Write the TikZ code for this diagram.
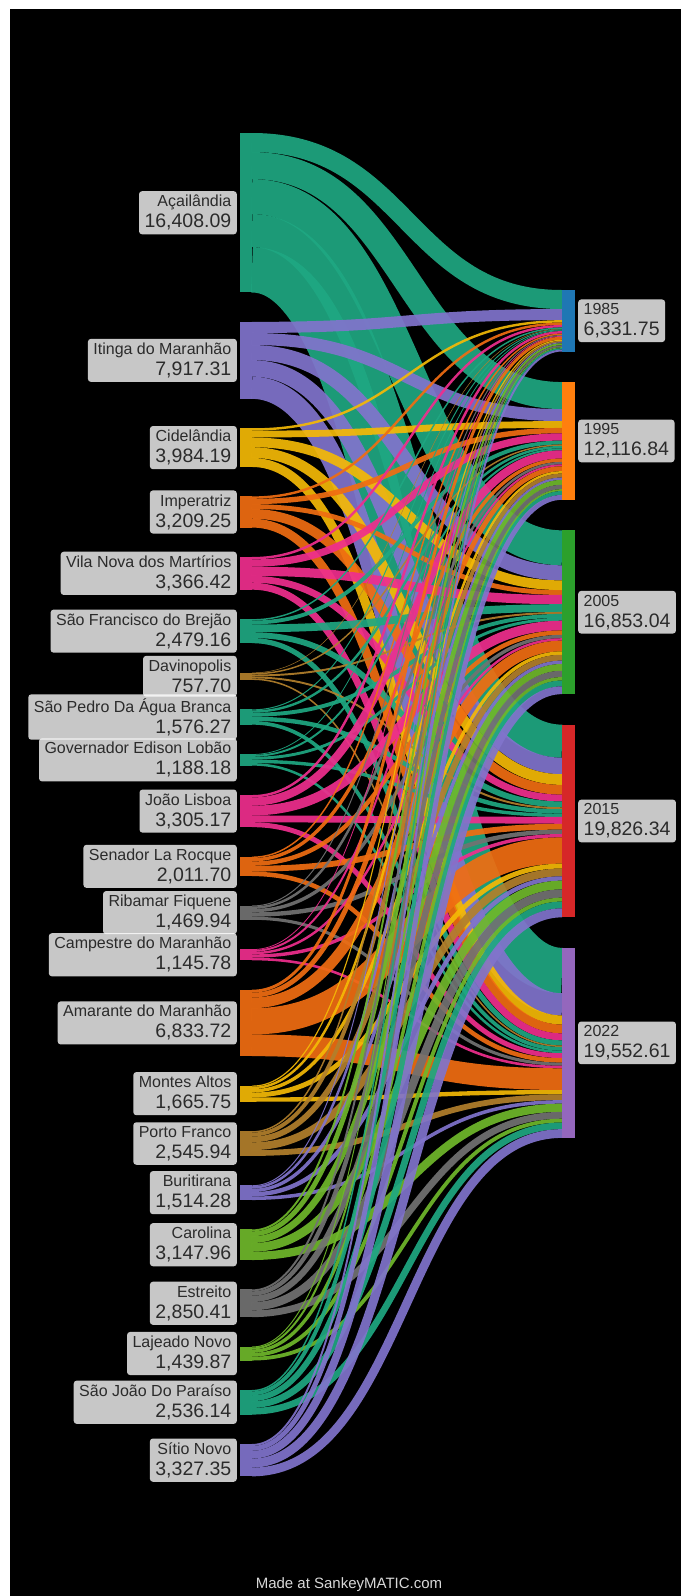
\documentclass[tikz,border=0pt]{standalone}
\usepackage{fontspec}
\setmainfont{Liberation Sans}
\definecolor{cteal}{HTML}{1FA882}
\definecolor{cpurp}{HTML}{8174CC}
\definecolor{cgold}{HTML}{F4B906}
\definecolor{corng}{HTML}{F06D12}
\definecolor{cpink}{HTML}{EF2E8E}
\definecolor{cgrn}{HTML}{6FB82B}
\definecolor{cbrwn}{HTML}{B2802C}
\definecolor{cgray}{HTML}{727272}
\definecolor{yA}{HTML}{1F77B4}
\definecolor{yB}{HTML}{FF7F0E}
\definecolor{yC}{HTML}{2CA02C}
\definecolor{yD}{HTML}{D62728}
\definecolor{yE}{HTML}{9467BD}
\definecolor{lbltext}{HTML}{2B2B2B}
\definecolor{foottext}{HTML}{D8D8D8}

\newcommand\skflow[4]{%
  \pgfmathsetmacro\fw{#1*\sc}%
  \edef\curT{\csname tg#2\endcsname}%
  \edef\curC{\csname cu#2\endcsname}%
  \pgfmathsetmacro\ys{\so+\fw/2}%
  \pgfmathsetmacro\yt{\curT+\curC*\sc+\fw/2}%
  \coordinate (fs#4) at (252,\ys);
  \coordinate (ft#4) at (562,\yt);
  \draw[flow,#3,line width=\fw pt] (fs#4) .. controls +(155,0) and +(-155,0) .. (ft#4);
  \pgfmathsetmacro\tmpc{\curC+#1}%
  \expandafter\xdef\csname cu#2\endcsname{\tmpc}%
  \pgfmathsetmacro\so{\so+\fw}%
}

\begin{document}
\begin{tikzpicture}[x=1pt,y=-1pt,
  lbl/.style={fill=white, fill opacity=0.78, text opacity=1, text=lbltext,
    rounded corners=3pt, inner xsep=5.5pt, inner ysep=4pt,
    font=\fontsize{19.5}{21}\selectfont},
  lleft/.style={lbl, anchor=east, align=right},
  lright/.style={lbl, anchor=west, align=left},
  flow/.style={draw opacity=0.92, line cap=butt},
  bar/.style={rectangle, inner sep=0pt, outer sep=0pt, minimum width=12pt, anchor=north west},
]
\useasboundingbox (0,0) rectangle (681,1596);
\fill[black] (10,9) rectangle (681,1596);

\pgfmathsetmacro\sc{0.972}
\pgfmathsetmacro\gr{30.5}
\pgfmathsetmacro\tgA{290}
\pgfmathsetmacro\tgB{\tgA+63.3175*\sc+\gr}
\pgfmathsetmacro\tgC{\tgB+121.1684*\sc+\gr}
\pgfmathsetmacro\tgD{\tgC+168.5304*\sc+\gr}
\pgfmathsetmacro\tgE{\tgD+198.2634*\sc+\gr}
\gdef\cuA{0}\gdef\cuB{0}\gdef\cuC{0}\gdef\cuD{0}\gdef\cuE{0}
\gdef\ycur{133}

\foreach \nm/\lab/\col/\qa/\qb/\qc/\qd/\qe [count=\i] in {
 {Açailândia}/{16,408.09}/cteal/19.60/27.80/36.00/34.00/46.6809,
 {Itinga do Maranhão}/{7,917.31}/cpurp/11.4175/12.40/15.50/17.00/22.8556,
 {Cidelândia}/{3,984.19}/cgold/2.50/7.00/10.00/11.00/9.3419,
 {Imperatriz}/{3,209.25}/corng/2.50/5.50/5.00/10.00/9.0925,
 {Vila Nova dos Martírios}/{3,366.42}/cpink/2.50/7.50/9.50/7.00/7.1642,
 {São Francisco do Brejão}/{2,479.16}/cteal/1.50/4.00/8.00/6.00/5.2916,
 {Davinopolis}/{757.70}/cbrwn/0.50/1.50/2.00/2.00/1.5770,
 {São Pedro Da Água Branca}/{1,576.27}/cteal/1.00/2.50/4.00/4.50/3.7627,
 {Governador Edison Lobão}/{1,188.18}/cteal/0.80/2.00/3.00/3.50/2.5818,
 {João Lisboa}/{3,305.17}/cpink/2.50/8.4684/10.00/7.00/5.0833,
 {Senador La Rocque}/{2,011.70}/corng/1.50/3.50/4.50/6.00/4.6170,
 {Ribamar Fiquene}/{1,469.94}/cgray/1.00/2.50/3.50/4.50/3.1994,
 {Campestre do Maranhão}/{1,145.78}/cpink/0.80/2.00/2.50/3.50/2.6578,
 {Amarante do Maranhão}/{6,833.72}/corng/3.00/5.00/11.00/27.00/22.3372,
 {Montes Altos}/{1,665.75}/cgold/1.20/2.50/3.50/5.00/4.4575,
 {Porto Franco}/{2,545.94}/cbrwn/1.50/4.00/6.00/8.00/5.9594,
 {Buritirana}/{1,514.28}/cpurp/1.00/2.50/3.50/4.50/3.6428,
 {Carolina}/{3,147.96}/cgrn/2.00/5.00/7.00/9.00/8.4796,
 {Estreito}/{2,850.41}/cgray/2.00/4.50/6.50/8.50/7.0041,
 {Lajeado Novo}/{1,439.87}/cgrn/1.00/2.00/3.50/4.00/3.8987,
 {São João Do Paraíso}/{2,536.14}/cteal/1.50/4.00/6.00/7.00/6.8614,
 {Sítio Novo}/{3,327.35}/cpurp/2.00/5.00/8.0304/9.2634/8.9797
}{
  \pgfmathsetmacro\hh{(\qa+\qb+\qc+\qd+\qe)*\sc}
  \pgfmathsetmacro\ytop{\ycur}
  \pgfmathsetmacro\so{\ycur}
  \node[bar, fill=\col, fill opacity=0.92, minimum height=\hh pt] (src\i) at (240,\ytop) {};
  \skflow{\qa}{A}{\col}{\i-a}
  \skflow{\qb}{B}{\col}{\i-b}
  \skflow{\qc}{C}{\col}{\i-c}
  \skflow{\qd}{D}{\col}{\i-d}
  \skflow{\qe}{E}{\col}{\i-e}
  \node[lleft] (lab\i) at (237,{\ytop+\hh/2}) {{\fontsize{16}{18}\selectfont \nm}\\\lab};
  \pgfmathsetmacro\nx{\ytop+\hh+29.4}
  \xdef\ycur{\nx}
}

\foreach \L/\yr/\lab/\tot in {
 A/1985/{6,331.75}/63.3175,
 B/1995/{12,116.84}/121.1684,
 C/2005/{16,853.04}/168.5304,
 D/2015/{19,826.34}/198.2634,
 E/2022/{19,552.61}/195.5261
}{
  \edef\tp{\csname tg\L\endcsname}
  \pgfmathsetmacro\hh{\tot*\sc}
  \node[bar, minimum width=13pt, fill=y\L, minimum height=\hh pt] (tgt\yr) at (562,\tp) {};
  \node[lright] (lab\yr) at (578,{\tp+\hh/2}) {{\fontsize{16}{18}\selectfont \yr}\\\lab};
}

\node[text=foottext, font=\fontsize{15}{17}\selectfont] (foot) at (349,1585) {Made at SankeyMATIC.com};
\end{tikzpicture}
\end{document}
